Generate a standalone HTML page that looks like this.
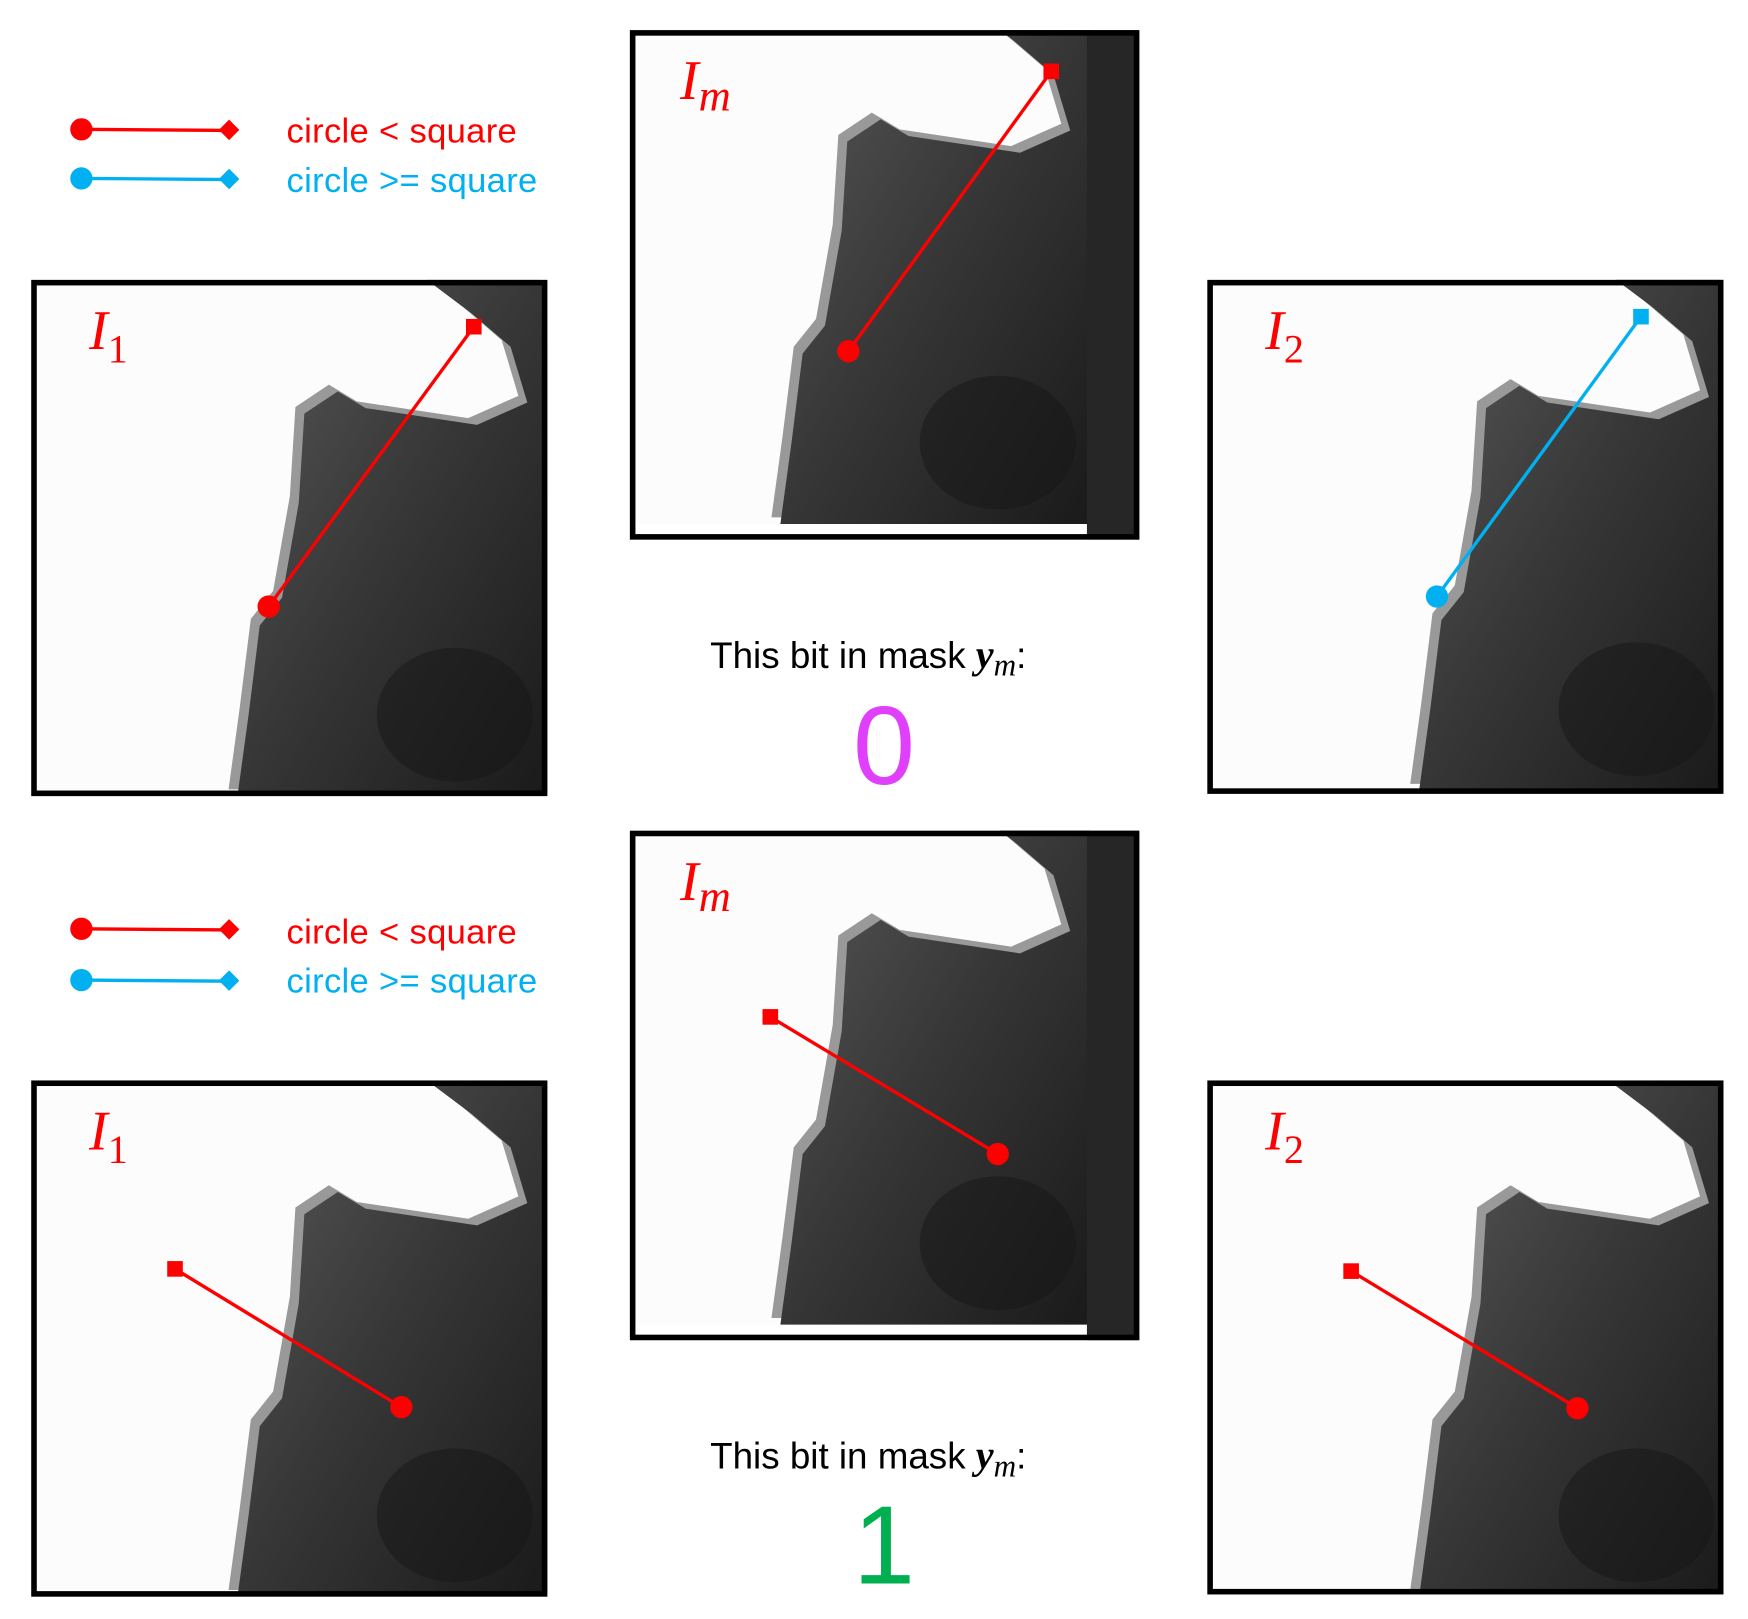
<!DOCTYPE html>
<html><head><meta charset="utf-8"><style>
html,body{margin:0;padding:0;background:#fff;}
svg{display:block;}
.leg{font-family:"Liberation Sans",sans-serif;font-size:31px;letter-spacing:0.3px;}
.lbl{font-family:"Liberation Serif",serif;font-style:italic;fill:#f00;}
.cap{font-family:"Liberation Sans",sans-serif;font-size:33px;fill:#000;}
</style></head><body>
<svg id="fig" width="1748" height="1619" viewBox="0 0 1568 1452" preserveAspectRatio="none" xmlns="http://www.w3.org/2000/svg">
<defs>
<linearGradient id="dk" x1="0" y1="0" x2="1" y2="1">
<stop offset="0" stop-color="#5a5a5a"/><stop offset="0.5" stop-color="#363636"/><stop offset="1" stop-color="#1a1a1a"/>
</linearGradient>
<g id="shape">
<rect x="0" y="0" width="463" height="463" fill="#fcfcfc"/>
<path d="M355,0 L463,0 L463,463 L185,463 L195,390 L205,310 L225,285 L240,200 L245,120 L275,100 L300,115 L400,130 L445,110 L430,60 L395,30 Z" fill="#999" transform="translate(-8,-6)"/>
<path d="M355,0 L463,0 L463,463 L185,463 L195,390 L205,310 L225,285 L240,200 L245,120 L275,100 L300,115 L400,130 L445,110 L430,60 L395,30 Z" fill="url(#dk)"/>
<ellipse cx="380" cy="390" rx="70" ry="60" fill="#151515" opacity="0.5"/>
</g>
<clipPath id="pc"><rect x="0" y="0" width="463" height="460"/></clipPath>
<clipPath id="pcm"><rect x="0" y="0" width="457" height="457"/></clipPath>
</defs>

<g>
<line x1="73" y1="116" x2="206" y2="117" stroke="#f00" stroke-width="3"/><circle cx="73" cy="116" r="10" fill="#f00"/><rect x="199" y="110" width="13" height="13" fill="#f00" transform="rotate(45 205.5 116.5)"/>
<text class="leg" x="257" y="128" fill="#f00">circle &lt; square</text>
<line x1="73" y1="160" x2="206" y2="161" stroke="#00b0f0" stroke-width="3"/><circle cx="73" cy="160" r="10" fill="#00b0f0"/><rect x="199" y="154" width="13" height="13" fill="#00b0f0" transform="rotate(45 205.5 160.5)"/>
<text class="leg" x="257" y="172" fill="#00b0f0">circle &gt;= square</text>
</g>
<g>
<line x1="73" y1="833" x2="206" y2="834" stroke="#f00" stroke-width="3"/><circle cx="73" cy="833" r="10" fill="#f00"/><rect x="199" y="827" width="13" height="13" fill="#f00" transform="rotate(45 205.5 833.5)"/>
<text class="leg" x="257" y="846" fill="#f00">circle &lt; square</text>
<line x1="73" y1="879" x2="206" y2="880" stroke="#00b0f0" stroke-width="3"/><circle cx="73" cy="879" r="10" fill="#00b0f0"/><rect x="199" y="873" width="13" height="13" fill="#00b0f0" transform="rotate(45 205.5 879.5)"/>
<text class="leg" x="257" y="890" fill="#00b0f0">circle &gt;= square</text>
</g>

<g transform="translate(28,251)">
<g clip-path="url(#pc)"><use href="#shape"/></g>
<rect x="2.5" y="2.5" width="458" height="458" fill="none" stroke="#000" stroke-width="5"/>
<text class="lbl" x="52" y="62" font-size="50">I<tspan font-style="normal" font-size="36" dy="12">1</tspan></text>
</g>
<g transform="translate(565,27)">
<g clip-path="url(#pcm)"><use href="#shape" transform="translate(-50,-20)"/><rect x="410" y="0" width="50" height="457" fill="#262626"/></g>
<rect x="2.5" y="2.5" width="452" height="452" fill="none" stroke="#000" stroke-width="5"/>
<text class="lbl" x="45" y="62" font-size="50">I<tspan font-size="40" dy="10">m</tspan></text>
</g>
<g transform="translate(1083,251)">
<g clip-path="url(#pc)"><use href="#shape" transform="translate(5,-5)"/></g>
<rect x="2.5" y="2.5" width="458" height="456" fill="none" stroke="#000" stroke-width="5"/>
<text class="lbl" x="52" y="62" font-size="50">I<tspan font-style="normal" font-size="36" dy="12">2</tspan></text>
</g>
<g transform="translate(565,745)">
<g clip-path="url(#pcm)"><use href="#shape" transform="translate(-50,-20)"/><rect x="410" y="0" width="50" height="457" fill="#262626"/></g>
<rect x="2.5" y="2.5" width="452" height="452" fill="none" stroke="#000" stroke-width="5"/>
<text class="lbl" x="45" y="62" font-size="50">I<tspan font-size="40" dy="10">m</tspan></text>
</g>
<g transform="translate(28,969)">
<g clip-path="url(#pc)"><use href="#shape"/></g>
<rect x="2.5" y="2.5" width="458" height="458" fill="none" stroke="#000" stroke-width="5"/>
<text class="lbl" x="52" y="62" font-size="50">I<tspan font-style="normal" font-size="36" dy="12">1</tspan></text>
</g>
<g transform="translate(1083,969)">
<g clip-path="url(#pc)"><use href="#shape" transform="translate(5,0)"/></g>
<rect x="2.5" y="2.5" width="458" height="456" fill="none" stroke="#000" stroke-width="5"/>
<text class="lbl" x="52" y="62" font-size="50">I<tspan font-style="normal" font-size="36" dy="12">2</tspan></text>
</g>

<g id="pairs"></g>

<g>
<text class="cap" x="637" y="599">This bit in mask <tspan font-family="Liberation Serif" font-style="italic" font-weight="bold" font-size="36">y</tspan><tspan font-family="Liberation Serif" font-style="italic" font-size="28" dy="7">m</tspan><tspan dy="-7">:</tspan></text>
<text x="793" y="703" text-anchor="middle" font-family="Liberation Sans" font-size="100" fill="#e040fb">0</text>
</g>
<g>
<text class="cap" x="637" y="1317">This bit in mask <tspan font-family="Liberation Serif" font-style="italic" font-weight="bold" font-size="36">y</tspan><tspan font-family="Liberation Serif" font-style="italic" font-size="28" dy="7">m</tspan><tspan dy="-7">:</tspan></text>
<text x="793" y="1420" text-anchor="middle" font-family="Liberation Sans" font-size="100" fill="#00b050">1</text>
</g>
</svg>
<script>
// pixel pairs: [x, y]
const circles = [[241,544],[761,315],[1289,535],[895,1035],[360,1262],[1415,1263]];
const squares = [[425,293],[943,64],[1472,284],[691,912],[157,1138],[1212,1140]];
const pairColors = ['#ff0000','#ff0000','#00b0f0','#ff0000','#ff0000','#ff0000'];
const NS='http://www.w3.org/2000/svg';
const g=document.getElementById('pairs');
circles.forEach((c,i)=>{
  const s=squares[i], col=pairColors[i];
  const l=document.createElementNS(NS,'line');
  
  
  l.setAttribute('x1',c[0]);l.setAttribute('y1',c[1]);l.setAttribute('x2',s[0]);l.setAttribute('y2',s[1]);
  l.setAttribute('stroke',col);l.setAttribute('stroke-width','3');
  g.appendChild(l);
  const ci=document.createElementNS(NS,'circle');
  
  
  ci.setAttribute('cx',c[0]);ci.setAttribute('cy',c[1]);ci.setAttribute('r','10');ci.setAttribute('fill',col);
  g.appendChild(ci);
  const r=document.createElementNS(NS,'rect');
  
  
  r.setAttribute('x',s[0]-7);r.setAttribute('y',s[1]-7);r.setAttribute('width','14');r.setAttribute('height','14');r.setAttribute('fill',col);
  g.appendChild(r);
});
</script>
</body></html>
